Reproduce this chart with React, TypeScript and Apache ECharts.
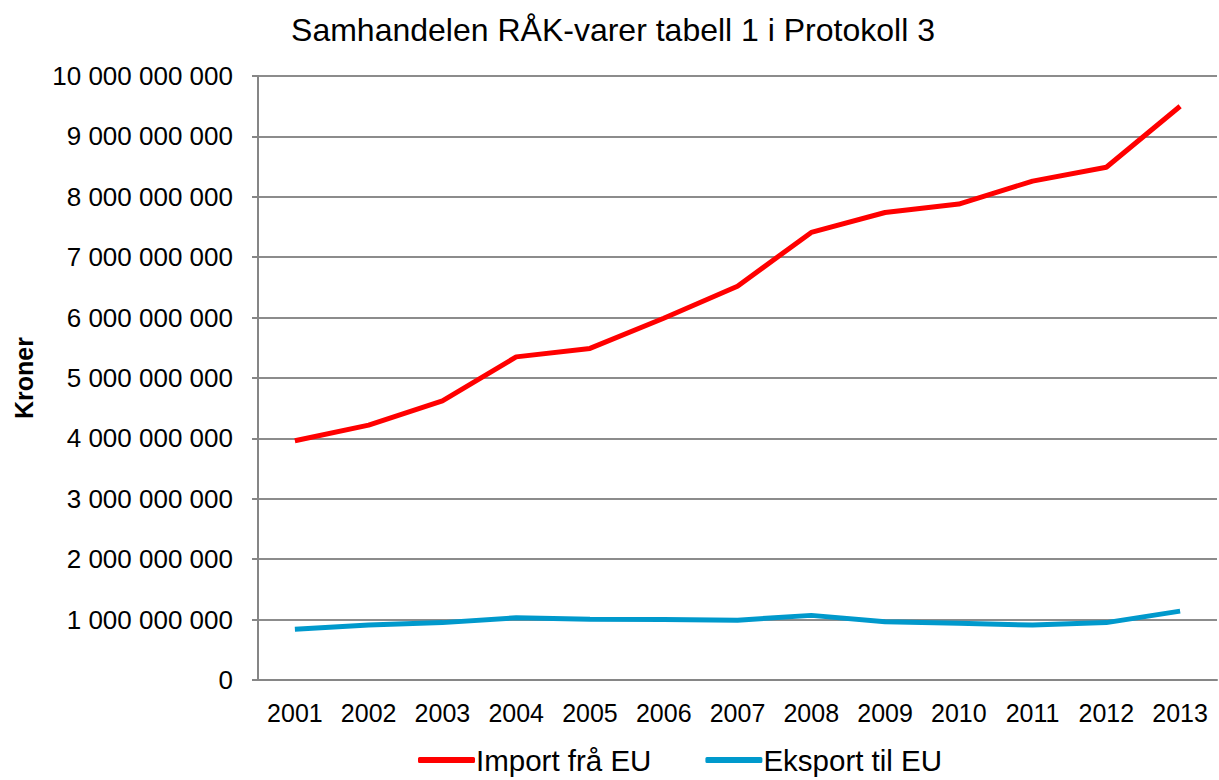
import React, { useEffect, useRef } from "react";
import * as echarts from "echarts";

const years = ["2001","2002","2003","2004","2005","2006","2007","2008","2009","2010","2011","2012","2013"];
const importFraEU = [3960000000, 4220000000, 4620000000, 5350000000, 5490000000, 5990000000, 6520000000, 7410000000, 7740000000, 7880000000, 8260000000, 8490000000, 9500000000];
const eksportTilEU = [840000000, 910000000, 950000000, 1030000000, 1005000000, 1000000000, 990000000, 1070000000, 965000000, 940000000, 910000000, 950000000, 1140000000];

const fmt = (v: number) => String(Math.round(v)).replace(/\B(?=(\d{3})+(?!\d))/g, " ");

export default function App() {
  const ref = useRef<HTMLDivElement>(null);
  useEffect(() => {
    const chart = echarts.init(ref.current!, null, { renderer: "svg" });
    const font = "Liberation Sans, Arial, sans-serif";
    chart.setOption({
      animation: false,
      backgroundColor: "#fff",
      textStyle: { fontFamily: font },
      title: {
        text: "Samhandelen RÅK-varer tabell 1 i Protokoll 3",
        left: 608,
        textAlign: "center",
        top: 9,
        textStyle: { fontSize: 32, fontWeight: "normal", color: "#000", fontFamily: font },
      },
      legend: {
        bottom: 0,
        left: 413,
        itemWidth: 57,
        itemHeight: 6,
        itemGap: 54,
        icon: "roundRect",
        textStyle: { fontSize: 29.5, color: "#000", fontFamily: font, padding: [0, 0, 0, -4] },
        data: ["Import frå EU", "Eksport til EU"],
      },
      grid: { left: 258, right: 2, top: 76, bottom: 100, containLabel: false },
      xAxis: {
        type: "category",
        data: years,
        boundaryGap: true,
        axisLine: { lineStyle: { color: "#868686", width: 2 } },
        axisTick: { show: false },
        axisLabel: { fontSize: 25, color: "#000", margin: 20, fontFamily: font, interval: 0 },
      },
      yAxis: {
        type: "value",
        min: 0,
        max: 10000000000,
        interval: 1000000000,
        name: "Kroner",
        nameLocation: "middle",
        nameGap: 222,
        nameTextStyle: { fontSize: 25, fontWeight: "bold", color: "#000", fontFamily: font },
        axisLine: { show: true, lineStyle: { color: "#868686", width: 2 } },
        axisTick: { show: true, length: 6, lineStyle: { color: "#868686", width: 2 } },
        axisLabel: { fontSize: 26, color: "#000", margin: 25, formatter: fmt, fontFamily: font },
        splitLine: { lineStyle: { color: "#8c8c8c", width: 2 } },
      },
      series: [
        {
          name: "Import frå EU",
          type: "line",
          data: importFraEU,
          symbol: "none",
          lineStyle: { color: "#FF0000", width: 5 },
          itemStyle: { color: "#FF0000" },
        },
        {
          name: "Eksport til EU",
          type: "line",
          data: eksportTilEU,
          symbol: "none",
          lineStyle: { color: "#0099CC", width: 5 },
          itemStyle: { color: "#0099CC" },
        },
      ],
    });
    return () => chart.dispose();
  }, []);
  return <div ref={ref} style={{ width: 1219, height: 780, position: "absolute", left: 0, top: 0 }} />;
}
